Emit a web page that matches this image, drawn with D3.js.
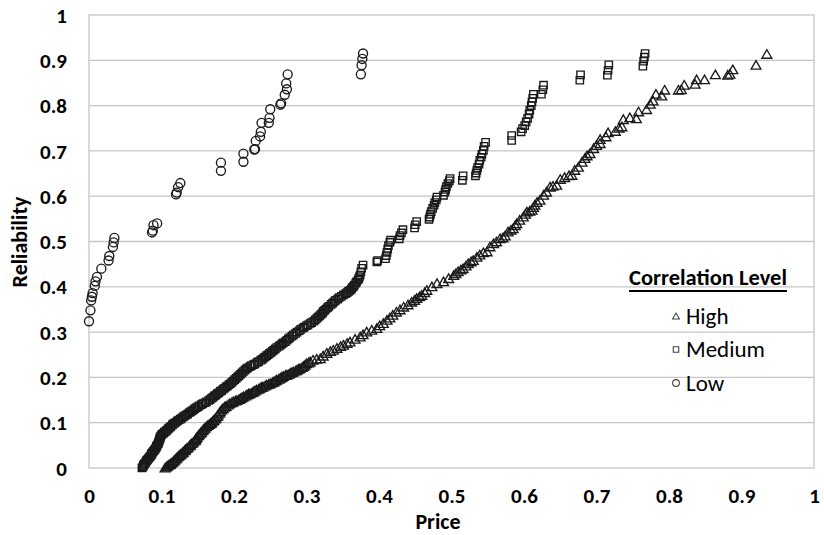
<!DOCTYPE html>
<html>
<head>
<meta charset="utf-8">
<script src="https://cdn.jsdelivr.net/npm/d3@7/dist/d3.min.js"></script>
<style>
  html, body { margin: 0; padding: 0; background: #fff; }
  svg { display: block; }
  text { font-family: Carlito, Calibri, "Liberation Sans Narrow", "Open Sans", "Liberation Sans", sans-serif; fill: #000; }
</style>
</head>
<body>
<svg id="chart" width="824" height="535"></svg>
<script>
// Reliability vs. price at three correlation levels
const xTicks = [0, 0.1, 0.2, 0.3, 0.4, 0.5, 0.6, 0.7, 0.8, 0.9, 1];
const yTicks = [0, 0.1, 0.2, 0.3, 0.4, 0.5, 0.6, 0.7, 0.8, 0.9, 1];
const xTickLabels = ["0", "0.1", "0.2", "0.3", "0.4", "0.5", "0.6", "0.7", "0.8", "0.9", "1"];
const yTickLabels = ["0", "0.1", "0.2", "0.3", "0.4", "0.5", "0.6", "0.7", "0.8", "0.9", "1"];
const seriesNames = ["High", "Medium", "Low"];

// High correlation: [price, reliability]
const highPoints = [
  [0.105,0.000],[0.107,0.002],[0.108,0.004],[0.110,0.006],[0.112,0.008],[0.113,0.010],[0.115,0.012],[0.117,0.015],
  [0.118,0.017],[0.120,0.020],[0.121,0.022],[0.123,0.025],[0.124,0.027],[0.126,0.029],[0.127,0.031],[0.129,0.033],
  [0.130,0.035],[0.132,0.038],[0.133,0.040],[0.135,0.043],[0.137,0.046],[0.139,0.049],[0.140,0.051],[0.142,0.054],
  [0.144,0.057],[0.146,0.060],[0.147,0.062],[0.148,0.065],[0.149,0.068],[0.151,0.071],[0.152,0.074],[0.154,0.077],
  [0.155,0.079],[0.157,0.082],[0.158,0.085],[0.160,0.088],[0.162,0.091],[0.164,0.094],[0.166,0.096],[0.168,0.098],
  [0.169,0.100],[0.171,0.103],[0.172,0.105],[0.174,0.108],[0.175,0.110],[0.177,0.114],[0.178,0.117],[0.180,0.121],
  [0.181,0.124],[0.183,0.128],[0.185,0.131],[0.187,0.134],[0.189,0.136],[0.192,0.139],[0.194,0.142],[0.197,0.144],
  [0.199,0.146],[0.202,0.148],[0.204,0.149],[0.207,0.151],[0.209,0.153],[0.211,0.155],[0.213,0.157],[0.216,0.159],
  [0.218,0.161],[0.220,0.163],[0.222,0.164],[0.225,0.166],[0.227,0.168],[0.229,0.170],[0.231,0.172],[0.234,0.174],
  [0.236,0.176],[0.238,0.178],[0.240,0.179],[0.243,0.181],[0.245,0.183],[0.248,0.185],[0.250,0.186],[0.253,0.188],
  [0.255,0.190],[0.257,0.192],[0.259,0.194],[0.262,0.196],[0.264,0.198],[0.266,0.200],[0.268,0.202],[0.271,0.204],
  [0.273,0.205],[0.276,0.207],[0.278,0.209],[0.280,0.211],[0.282,0.212],[0.285,0.214],[0.287,0.216],[0.289,0.218],
  [0.291,0.219],[0.294,0.222],[0.296,0.224],[0.298,0.227],[0.300,0.230],[0.303,0.232],[0.305,0.234],[0.309,0.238],
  [0.314,0.240],[0.319,0.241],[0.323,0.247],[0.328,0.253],[0.333,0.257],[0.337,0.260],[0.342,0.264],[0.347,0.268],
  [0.351,0.271],[0.356,0.275],[0.360,0.278],[0.367,0.284],[0.374,0.289],[0.378,0.294],[0.383,0.300],[0.390,0.304],
  [0.397,0.308],[0.401,0.314],[0.406,0.319],[0.411,0.326],[0.415,0.331],[0.419,0.337],[0.424,0.344],[0.429,0.349],
  [0.434,0.355],[0.440,0.360],[0.445,0.366],[0.449,0.370],[0.452,0.374],[0.456,0.378],[0.459,0.381],[0.463,0.387],
  [0.466,0.392],[0.473,0.400],[0.480,0.407],[0.489,0.411],[0.496,0.418],[0.503,0.425],[0.506,0.429],[0.509,0.433],
  [0.513,0.437],[0.516,0.440],[0.520,0.446],[0.523,0.451],[0.527,0.455],[0.530,0.458],[0.535,0.465],[0.539,0.470],
  [0.544,0.475],[0.549,0.477],[0.553,0.488],[0.558,0.495],[0.562,0.499],[0.567,0.506],[0.571,0.508],[0.574,0.512],
  [0.578,0.521],[0.582,0.525],[0.585,0.528],[0.588,0.535],[0.590,0.539],[0.594,0.547],[0.599,0.554],[0.602,0.560],
  [0.604,0.565],[0.608,0.567],[0.611,0.569],[0.613,0.575],[0.615,0.580],[0.618,0.586],[0.622,0.591],[0.627,0.602],
  [0.631,0.609],[0.636,0.620],[0.640,0.622],[0.645,0.624],[0.650,0.637],[0.656,0.641],[0.662,0.645],[0.666,0.646],
  [0.670,0.657],[0.675,0.664],[0.680,0.675],[0.684,0.683],[0.687,0.689],[0.691,0.694],[0.696,0.705],[0.700,0.712],
  [0.705,0.716],[0.705,0.725],[0.713,0.731],[0.716,0.740],[0.726,0.743],[0.731,0.750],[0.735,0.753],[0.737,0.769],
  [0.746,0.773],[0.755,0.771],[0.758,0.786],[0.769,0.791],[0.774,0.803],[0.778,0.810],[0.782,0.825],[0.790,0.821],
  [0.794,0.834],[0.813,0.834],[0.817,0.835],[0.821,0.845],[0.836,0.847],[0.838,0.857],[0.849,0.857],[0.864,0.868],
  [0.881,0.867],[0.884,0.869],[0.888,0.879],[0.920,0.889],[0.935,0.913]
];

// Medium correlation: [price, reliability]
const mediumPoints = [
  [0.073,0.000],[0.074,0.002],[0.075,0.004],[0.075,0.006],[0.076,0.008],[0.077,0.010],[0.078,0.012],[0.079,0.015],
  [0.080,0.017],[0.081,0.019],[0.082,0.021],[0.083,0.023],[0.084,0.025],[0.085,0.027],[0.086,0.029],[0.086,0.031],
  [0.087,0.033],[0.088,0.035],[0.089,0.037],[0.090,0.039],[0.091,0.041],[0.092,0.044],[0.093,0.046],[0.093,0.048],
  [0.094,0.050],[0.095,0.053],[0.096,0.055],[0.096,0.058],[0.097,0.060],[0.097,0.063],[0.098,0.065],[0.098,0.068],
  [0.099,0.070],[0.100,0.073],[0.101,0.075],[0.103,0.077],[0.104,0.079],[0.106,0.081],[0.107,0.083],[0.109,0.086],
  [0.110,0.088],[0.112,0.090],[0.113,0.092],[0.115,0.095],[0.116,0.097],[0.118,0.099],[0.120,0.101],[0.122,0.104],
  [0.124,0.106],[0.126,0.108],[0.128,0.110],[0.130,0.113],[0.132,0.115],[0.134,0.117],[0.136,0.119],[0.138,0.122],
  [0.140,0.124],[0.142,0.126],[0.144,0.128],[0.146,0.131],[0.148,0.133],[0.150,0.135],[0.152,0.137],[0.155,0.140],
  [0.157,0.142],[0.160,0.144],[0.162,0.146],[0.165,0.149],[0.167,0.151],[0.169,0.154],[0.171,0.156],[0.173,0.159],
  [0.175,0.161],[0.177,0.164],[0.179,0.166],[0.181,0.169],[0.183,0.171],[0.185,0.174],[0.187,0.176],[0.189,0.179],
  [0.191,0.181],[0.193,0.184],[0.195,0.186],[0.197,0.189],[0.199,0.192],[0.201,0.195],[0.203,0.198],[0.205,0.201],
  [0.207,0.204],[0.209,0.207],[0.211,0.210],[0.213,0.213],[0.215,0.216],[0.217,0.219],[0.219,0.221],[0.222,0.224],
  [0.224,0.226],[0.227,0.228],[0.229,0.230],[0.232,0.233],[0.234,0.235],[0.237,0.238],[0.239,0.240],[0.241,0.243],
  [0.243,0.245],[0.245,0.248],[0.247,0.250],[0.249,0.253],[0.251,0.255],[0.253,0.258],[0.255,0.260],[0.257,0.263],
  [0.259,0.266],[0.262,0.269],[0.264,0.271],[0.266,0.274],[0.268,0.276],[0.271,0.279],[0.273,0.282],[0.275,0.285],
  [0.277,0.288],[0.280,0.291],[0.282,0.294],[0.285,0.297],[0.287,0.300],[0.290,0.303],[0.292,0.306],[0.295,0.309],
  [0.297,0.311],[0.300,0.314],[0.302,0.316],[0.305,0.319],[0.307,0.321],[0.310,0.324],[0.312,0.327],[0.314,0.330],
  [0.316,0.333],[0.318,0.336],[0.320,0.339],[0.322,0.342],[0.323,0.345],[0.325,0.348],[0.327,0.351],[0.329,0.354],
  [0.331,0.357],[0.334,0.361],[0.336,0.364],[0.338,0.367],[0.340,0.370],[0.343,0.373],[0.345,0.376],[0.348,0.379],
  [0.351,0.382],[0.354,0.385],[0.356,0.387],[0.358,0.390],[0.360,0.392],[0.362,0.395],[0.363,0.398],[0.365,0.401],
  [0.366,0.404],[0.368,0.408],[0.369,0.411],[0.371,0.415],[0.372,0.418],[0.373,0.422],[0.374,0.426],[0.375,0.433],
  [0.376,0.441],[0.378,0.448],[0.397,0.455],[0.398,0.458],[0.409,0.462],[0.410,0.469],[0.411,0.476],[0.412,0.483],
  [0.413,0.491],[0.415,0.498],[0.416,0.503],[0.428,0.506],[0.429,0.513],[0.431,0.519],[0.433,0.526],[0.449,0.530],
  [0.450,0.537],[0.452,0.544],[0.469,0.549],[0.470,0.554],[0.471,0.560],[0.472,0.566],[0.474,0.573],[0.476,0.580],
  [0.477,0.586],[0.479,0.592],[0.480,0.598],[0.489,0.602],[0.491,0.609],[0.492,0.615],[0.493,0.621],[0.495,0.628],
  [0.497,0.634],[0.498,0.639],[0.515,0.635],[0.516,0.645],[0.533,0.645],[0.534,0.651],[0.535,0.657],[0.536,0.663],
  [0.538,0.671],[0.539,0.679],[0.541,0.686],[0.542,0.693],[0.544,0.701],[0.545,0.710],[0.547,0.719],[0.583,0.723],
  [0.583,0.734],[0.596,0.742],[0.598,0.749],[0.601,0.756],[0.603,0.764],[0.605,0.772],[0.607,0.781],[0.608,0.790],
  [0.610,0.800],[0.611,0.808],[0.612,0.816],[0.613,0.825],[0.624,0.825],[0.626,0.835],[0.627,0.845],[0.677,0.856],
  [0.678,0.868],[0.715,0.867],[0.716,0.878],[0.717,0.890],[0.764,0.887],[0.765,0.898],[0.766,0.907],[0.767,0.915]
];

// Low correlation: [price, reliability]
const lowPoints = [
  [0.000,0.324],[0.002,0.348],[0.003,0.370],[0.004,0.378],[0.005,0.386],[0.008,0.402],[0.009,0.412],[0.011,0.422],
  [0.017,0.440],[0.027,0.458],[0.028,0.468],[0.033,0.488],[0.034,0.498],[0.035,0.508],[0.087,0.520],[0.088,0.524],
  [0.089,0.536],[0.094,0.540],[0.120,0.604],[0.121,0.608],[0.123,0.620],[0.126,0.629],[0.182,0.656],[0.182,0.674],
  [0.213,0.676],[0.213,0.694],[0.228,0.703],[0.229,0.704],[0.230,0.722],[0.236,0.732],[0.237,0.742],[0.238,0.762],
  [0.248,0.762],[0.249,0.773],[0.250,0.792],[0.264,0.802],[0.265,0.805],[0.270,0.824],[0.273,0.836],[0.272,0.849],
  [0.274,0.869],[0.375,0.869],[0.376,0.889],[0.377,0.903],[0.378,0.915]
];

const svg = d3.select("#chart");
const plot = { left: 89, right: 814, top: 15, bottom: 468 };

const x = d3.scaleLinear().domain([0, 1]).range([plot.left, plot.right]);
const y = d3.scaleLinear().domain([0, 1]).range([plot.bottom, plot.top]);

const gridColor = "#c6c6c6";
const markColor = "#1a1a1a";

// horizontal gridlines
svg.append("g").selectAll("line").data(yTicks.slice(1, -1)).join("line")
  .attr("x1", plot.left).attr("x2", plot.right)
  .attr("y1", d => y(d)).attr("y2", d => y(d))
  .attr("stroke", gridColor).attr("stroke-width", 1.3);

// plot frame
svg.append("rect")
  .attr("x", plot.left).attr("y", plot.top)
  .attr("width", plot.right - plot.left).attr("height", plot.bottom - plot.top)
  .attr("fill", "none").attr("stroke", gridColor).attr("stroke-width", 1.3);

// axes (labels only)
const xAxis = d3.axisBottom(x).tickValues(xTicks).tickSize(0).tickPadding(0)
  .tickFormat((d, i) => xTickLabels[i]);
const gx = svg.append("g").attr("transform", `translate(0,${plot.bottom})`).call(xAxis);
gx.select(".domain").remove();
gx.attr("font-family", null).attr("font-size", null);
gx.selectAll("text").attr("dy", null).attr("y", 35)
  .style("font-size", "21px").style("font-weight", "bold");

const yAxis = d3.axisLeft(y).tickValues(yTicks).tickSize(0).tickPadding(0)
  .tickFormat((d, i) => yTickLabels[i]);
const gy = svg.append("g").attr("transform", `translate(67,0)`).call(yAxis);
gy.select(".domain").remove();
gy.attr("font-family", null).attr("font-size", null);
gy.selectAll("text").attr("x", 0).attr("dy", "0.34em")
  .style("font-size", "21px").style("font-weight", "bold");

// axis titles
svg.append("text").attr("x", 438).attr("y", 529)
  .attr("text-anchor", "middle").style("font-size", "22px").style("font-weight", "bold").text("Price");
svg.append("text").attr("transform", `translate(27,242) rotate(-90)`)
  .attr("text-anchor", "middle").style("font-size", "22px").style("font-weight", "bold").text("Reliability");

// marker shapes
const shapes = {
  High: d3.symbol().type(d3.symbolTriangle).size(42),
  Medium: d3.symbol().type(d3.symbolSquare).size(54),
  Low: d3.symbol().type(d3.symbolCircle).size(64)
};

const seriesData = [highPoints, mediumPoints, lowPoints];
seriesNames.forEach((name, si) => {
  svg.append("g").selectAll("path").data(seriesData[si]).join("path")
    .attr("transform", d => `translate(${x(d[0])},${y(d[1]) + (name === "High" ? 1 : 0)})`)
    .attr("d", shapes[name]())
    .attr("fill", "none").attr("stroke", markColor).attr("stroke-width", 1.35);
});

// legend
const legend = svg.append("g");
const title = legend.append("text").attr("x", 708).attr("y", 285).attr("text-anchor", "middle")
  .style("font-size", "22.5px").style("font-weight", "bold").text("Correlation Level");
const tw = title.node().getComputedTextLength();
legend.append("line").attr("x1", 708 - tw / 2).attr("x2", 708 + tw / 2).attr("y1", 291).attr("y2", 291)
  .attr("stroke", "#000").attr("stroke-width", 2);

const legendShapes = {
  High: d3.symbol().type(d3.symbolTriangle).size(20),
  Medium: d3.symbol().type(d3.symbolSquare).size(30),
  Low: d3.symbol().type(d3.symbolCircle).size(36)
};
seriesNames.forEach((name, i) => {
  const cy = 316 + i * 33.5;
  legend.append("path").attr("transform", `translate(676,${cy + (name === "High" ? 1 : 0)})`)
    .attr("d", legendShapes[name]())
    .attr("fill", "none").attr("stroke", "#444").attr("stroke-width", 1.1);
  legend.append("text").attr("x", 686).attr("y", cy + 7.5)
    .style("font-size", "23px").text(name);
});
</script>
</body>
</html>
